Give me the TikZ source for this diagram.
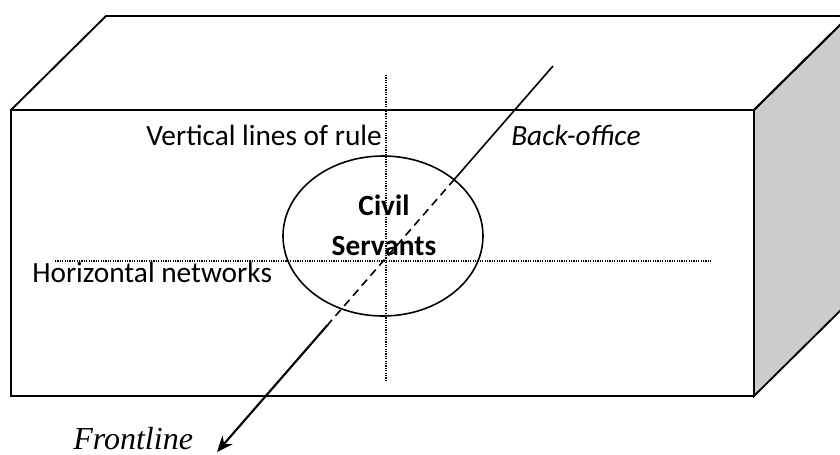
\documentclass[tikz,border=0pt]{standalone}
\usepackage{fontspec}
\setmainfont{Carlito}
\newfontfamily\timesfont{Liberation Serif}
\usetikzlibrary{calc,shapes.geometric,arrows.meta}
\definecolor{sidegray}{HTML}{CCCCCC}
\begin{document}
\begin{tikzpicture}[x=0.75pt,y=-0.75pt,
    boxline/.style={line width=1.4pt,line join=miter},
    label/.style={inner sep=0pt,font=\fontsize{22}{30}\selectfont},
    rule/.style={line width=0.9pt,dash pattern=on 0.9pt off 0.9pt},
    cell/.style={draw,ellipse,line width=1.2pt,minimum width=150pt,minimum height=120pt,inner sep=0pt}]
  \useasboundingbox (0,0) rectangle (840,454);
  \clip (0,0) rectangle (840,454);
  \coordinate (fa) at (11,110);  \coordinate (fb) at (754,110);
  \coordinate (fc) at (754,396); \coordinate (fd) at (11,396);
  \coordinate (ba) at (106,16);  \coordinate (bb) at (849,16);
  \coordinate (bc) at (849,302);
  \filldraw[boxline,fill=sidegray] (fb) -- (bb) -- (bc) -- (fc) -- cycle;
  \draw[boxline] (fa) -- (ba) -- (bb) -- (fb);
  \draw[boxline] (fa) rectangle (fc);
  \node[cell] (cs) at (383,236) {};
  \node[label,anchor=base] (civil) at (384,215) {\bfseries Civil};
  \node[label,anchor=base] (serv) at (384,255) {\bfseries Servants};
  \coordinate (vtop) at (386,75);  \coordinate (vbot) at (386,380);
  \coordinate (hl) at (55,261);    \coordinate (hr) at (712,261);
  \draw[rule] (vtop) -- (vbot);
  \draw[rule] (hl) -- (hr);
  \node[label,anchor=base west] (vert) at (146,145) {Vertical lines of rule};
  \node[label,anchor=base west] (horiz) at (32,282) {Horizontal networks};
  \node[label,anchor=base west] (back) at (511,145) {\itshape Back-office};
  \node[inner sep=0pt,anchor=base west,font=\timesfont\itshape\fontsize{24}{28}\selectfont] (front) at (73,449) {Frontline};
  \coordinate (bo) at (553,66);   \coordinate (fl) at (217,452);
  \draw[line width=1.2pt] (bo) -- ($(bo)!0.293!(fl)$);
  \draw[line width=1.2pt,dash pattern=on 6pt off 4pt] ($(bo)!0.293!(fl)$) -- ($(bo)!0.67!(fl)$);
  \draw[line width=1.6pt,-{Stealth[length=12pt,width=10pt]}] ($(bo)!0.67!(fl)$) -- (fl);
\end{tikzpicture}
\end{document}
